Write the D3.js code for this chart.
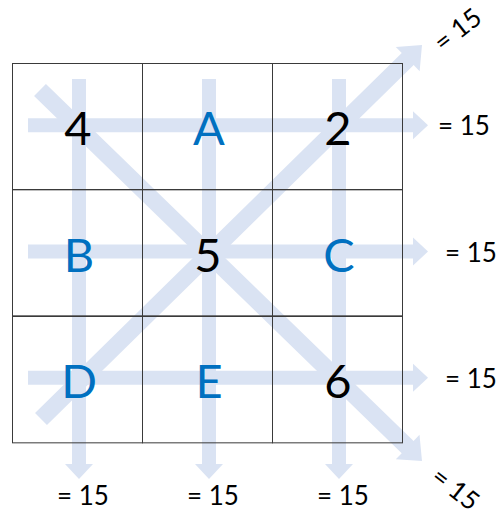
<!DOCTYPE html>
<html>
<head>
<meta charset="utf-8">
<script src="https://cdn.jsdelivr.net/npm/d3@7"></script>
<style>
  html, body { margin: 0; padding: 0; background: #fff; }
  svg { display: block; }
</style>
</head>
<body>
<svg id="chart" width="500" height="510"></svg>
<script>
// ---- data ----
const rows = [0, 1, 2];
const cols = [0, 1, 2];
const cellValues = [
  ["4", "A", "2"],
  ["B", "5", "C"],
  ["D", "E", "6"]
];
const rowSums = [15, 15, 15];
const colSums = [15, 15, 15];
const diagSums = [15, 15];

// ---- layout ----
const svg = d3.select("#chart");
const x = d3.scaleBand().domain(cols).range([12, 402]);
const y = d3.scaleBand().domain(rows).range([63, 442]);
const cx = c => x(c) + x.bandwidth() / 2;
const cy = r => y(r) + y.bandwidth() / 2;
const [x0, x1] = x.range();
const [y0, y1] = y.range();

const arrowColor = "#dae3f3";
const blue = "#0070c0";
const font = "Lato, 'Open Sans', sans-serif";

// arrow polygon from (ax,ay) to tip (bx,by)
function arrowPath(ax, ay, bx, by, shaft, headW, headL) {
  const dx = bx - ax, dy = by - ay;
  const len = Math.hypot(dx, dy);
  const ux = dx / len, uy = dy / len;
  const px = -uy, py = ux;
  const hx = bx - ux * headL, hy = by - uy * headL;
  const s = shaft / 2, h = headW / 2;
  const pts = [
    [ax + px * s, ay + py * s],
    [hx + px * s, hy + py * s],
    [hx + px * h, hy + py * h],
    [bx, by],
    [hx - px * h, hy - py * h],
    [hx - px * s, hy - py * s],
    [ax - px * s, ay - py * s]
  ];
  return d3.line()(pts) + "Z";
}

const gArrows = svg.append("g");
// row arrows
gArrows.selectAll("path.row").data(rows).join("path")
  .attr("d", r => arrowPath(x0 + 16, cy(r) - 1, x1 + 26, cy(r) - 1, 14, 28, 15))
  .attr("fill", arrowColor);
// column arrows
gArrows.selectAll("path.col").data(cols).join("path")
  .attr("d", c => arrowPath(cx(c) + 2, y0 + 16, cx(c) + 2, y1 + 37, 14, 28, 15))
  .attr("fill", arrowColor);
// diagonal arrows
gArrows.append("path")
  .attr("d", arrowPath(x0 + 28, y0 + 27, x1 + 20, y1 + 19, 17, 34, 20))
  .attr("fill", arrowColor);
gArrows.append("path")
  .attr("d", arrowPath(x0 + 29, y1 - 23, x1 + 20, y0 - 18, 17, 34, 20))
  .attr("fill", arrowColor);

// grid
const gGrid = svg.append("g").attr("stroke", "#3a3a3a").attr("stroke-width", 1).attr("fill", "none");
const cells = [];
rows.forEach(r => cols.forEach(c => cells.push({ r, c, v: cellValues[r][c] })));
gGrid.selectAll("rect").data(cells).join("rect")
  .attr("x", d => Math.round(x(d.c)) + 0.5)
  .attr("y", d => Math.round(y(d.r)) + 0.5)
  .attr("width", x.bandwidth())
  .attr("height", y.bandwidth());

// cell values
svg.append("g").selectAll("text").data(cells).join("text")
  .attr("x", d => cx(d.c) + (isNaN(+d.v) ? 2 : 1))
  .attr("y", d => cy(d.r) + 1)
  .attr("text-anchor", "middle")
  .attr("dominant-baseline", "central")
  .attr("font-family", font)
  .attr("font-size", 47)
  .attr("fill", d => isNaN(+d.v) ? blue : "#000")
  .text(d => d.v);

// sum labels
const gLab = svg.append("g")
  .attr("font-family", font)
  .attr("font-size", 26)
  .attr("fill", "#000");
gLab.selectAll("text.r").data(rows).join("text")
  .attr("x", r => x1 + (r === 0 ? 36 : 43))
  .attr("y", r => cy(r) - 1)
  .attr("dominant-baseline", "central")
  .text(r => "= " + rowSums[r]);
gLab.selectAll("text.c").data(cols).join("text")
  .attr("x", c => cx(c) + 6)
  .attr("y", y1 + 53)
  .attr("text-anchor", "middle")
  .attr("dominant-baseline", "central")
  .text(c => "= " + colSums[c]);
gLab.append("text")
  .attr("transform", `translate(${x1 + 55},${y0 - 34}) rotate(-38)`)
  .attr("text-anchor", "middle")
  .attr("dominant-baseline", "central")
  .text("= " + diagSums[1]);
gLab.append("text")
  .attr("transform", `translate(${x1 + 54},${y1 + 46}) rotate(38)`)
  .attr("text-anchor", "middle")
  .attr("dominant-baseline", "central")
  .text("= " + diagSums[0]);
</script>
</body>
</html>
